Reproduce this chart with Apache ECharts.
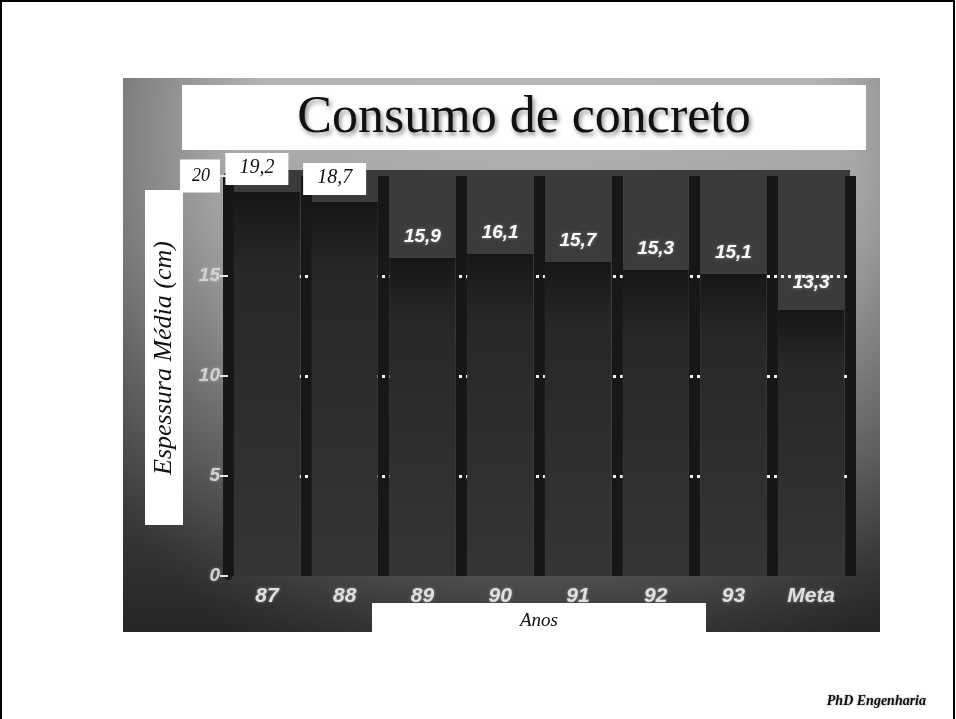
<!DOCTYPE html>
<html>
<head>
<meta charset="utf-8">
<title>Consumo de concreto</title>
<script src="https://cdn.jsdelivr.net/npm/echarts@6/dist/echarts.min.js"></script>
<style>
  html, body { margin: 0; padding: 0; background: #fff; }
  #chart { width: 956px; height: 719px; }
</style>
</head>
<body>
<div id="chart"></div>
<script>
const categories = ['87', '88', '89', '90', '91', '92', '93', 'Meta'];
const espessura = [19.2, 18.7, 15.9, 16.1, 15.7, 15.3, 15.1, 13.3];
// anos cujo rótulo foi coberto por caixa branca
const boxedYears = ['87', '88'];
const yMax = 20;
const yStep = 5;

const chart = echarts.init(document.getElementById('chart'));

const serif = '"Liberation Serif", "DejaVu Serif", serif';
const sans = '"Liberation Sans", Arial, sans-serif';

const fmt = v => String(v).replace('.', ',');

const barData = espessura.map((v, i) => {
  const boxed = boxedYears.includes(categories[i]);
  const item = { value: v };
  if (boxed) {
    item.label = {
      color: '#111', fontFamily: serif, fontStyle: 'italic', fontWeight: 'normal',
      fontSize: 20, backgroundColor: '#fff', padding: [5, 14, 7, 14],
      distance: 7, offset: [-10, 0], textShadowBlur: 0
    };
  } else if (categories[i] === 'Meta') {
    item.label = { distance: 18 };
  }
  return item;
});

const option = {
  backgroundColor: '#fff',
  graphic: [
    // moldura do slide
    { type: 'polyline', z: 0, shape: { points: [[1, 719], [1, 1], [954, 1], [954, 719]] },
      style: { stroke: '#000', lineWidth: 2, fill: null } },
    // fotografia
    { type: 'rect', z: -10, shape: { x: 123, y: 78, width: 757, height: 554 },
      style: { fill: new echarts.graphic.LinearGradient(0, 0, 0, 1, [
        { offset: 0, color: '#bcbcbc' },
        { offset: 0.3, color: '#a4a4a4' },
        { offset: 0.7, color: '#747474' },
        { offset: 1, color: '#444444' }
      ]) } },
    { type: 'rect', z: -9, shape: { x: 123, y: 78, width: 757, height: 554 },
      style: { fill: new echarts.graphic.RadialGradient(0.55, 0.3, 0.9, [
        { offset: 0, color: 'rgba(0,0,0,0)' },
        { offset: 0.65, color: 'rgba(0,0,0,0.05)' },
        { offset: 1, color: 'rgba(0,0,0,0.45)' }
      ]) } },
    // painel escuro do gráfico
    { type: 'rect', z: -8, shape: { x: 228, y: 170, width: 622, height: 406 },
      style: { fill: '#3b3b3b' } },
    // título
    { type: 'rect', z: 5, shape: { x: 182, y: 85, width: 684, height: 65 }, style: { fill: '#fff' } },
    { type: 'text', z: 6, x: 524, y: 118,
      style: { text: 'Consumo de concreto', fill: '#111', font: '52px ' + serif,
        align: 'center', verticalAlign: 'middle',
        textShadowColor: 'rgba(0,0,0,0.45)', textShadowBlur: 4, textShadowOffsetX: 2, textShadowOffsetY: 3 } },
    // título do eixo y
    { type: 'rect', z: 5, shape: { x: 145, y: 190, width: 38, height: 335 }, style: { fill: '#fff' } },
    { type: 'text', z: 6, x: 164, y: 358, rotation: Math.PI / 2,
      style: { text: 'Espessura Média (cm)', fill: '#111', font: 'italic 26px ' + serif,
        align: 'center', verticalAlign: 'middle' } },
    // título do eixo x
    { type: 'rect', z: 5, shape: { x: 372, y: 603, width: 334, height: 30 }, style: { fill: '#fff' } },
    { type: 'text', z: 6, x: 539, y: 621,
      style: { text: 'Anos', fill: '#111', font: 'italic 19px ' + serif, align: 'center', verticalAlign: 'middle' } },
    // rodapé
    { type: 'text', z: 6, x: 926, y: 701,
      style: { text: 'PhD Engenharia', fill: '#111', font: 'italic bold 14px ' + serif,
        align: 'right', verticalAlign: 'middle', textShadowColor: 'rgba(0,0,0,0.4)', textShadowBlur: 2 } }
  ],
  grid: { left: 228, right: 106, top: 176, bottom: 143 },
  xAxis: {
    type: 'category',
    data: categories,
    z: 0,
    axisLine: { show: false },
    axisTick: { show: false },
    splitLine: { show: true, lineStyle: { color: '#171717', width: 11 } },
    axisLabel: {
      margin: 10, color: '#e0e0e0', fontFamily: sans, fontStyle: 'italic', fontWeight: 'bold',
      fontSize: 21, textShadowColor: 'rgba(255,255,255,0.4)', textShadowBlur: 3
    }
  },
  yAxis: {
    type: 'value',
    min: 0,
    max: yMax,
    interval: yStep,
    z: 1,
    axisLine: { show: true, lineStyle: { color: '#171717', width: 8 } },
    axisTick: { show: true, length: 8, lineStyle: { color: '#e6e6e6', width: 2 } },
    splitLine: {
      show: true, showMinLine: false, showMaxLine: false,
      lineStyle: { color: '#f2f2f2', width: 3, type: [3, 4] }
    },
    axisLabel: {
      margin: 8, fontFamily: sans,
      formatter: v => v === yMax ? '{box|' + v + '}' : '{n|' + v + '}',
      rich: {
        n: { color: '#d2d2d2', fontStyle: 'italic', fontWeight: 'bold', fontSize: 19,
             textShadowColor: 'rgba(255,255,255,0.4)', textShadowBlur: 3 },
        box: { color: '#111', fontFamily: serif, fontStyle: 'italic', fontSize: 18,
               backgroundColor: '#fff', padding: [8, 10, 7, 12] }
      }
    }
  },
  series: [{
    type: 'bar',
    data: barData,
    barWidth: 66,
    z: 2,
    itemStyle: {
      color: new echarts.graphic.LinearGradient(0, 0, 0, 1, [
        { offset: 0, color: '#161616' },
        { offset: 0.2, color: '#272727' },
        { offset: 1, color: '#353535' }
      ])
    },
    label: {
      show: true, position: 'top', distance: 12,
      formatter: p => fmt(p.value),
      color: '#fafafa', fontFamily: sans, fontStyle: 'italic', fontWeight: 'bold', fontSize: 19,
      textShadowColor: 'rgba(255,255,255,0.4)', textShadowBlur: 3
    }
  }]
};

chart.setOption(option);
</script>
</body>
</html>
